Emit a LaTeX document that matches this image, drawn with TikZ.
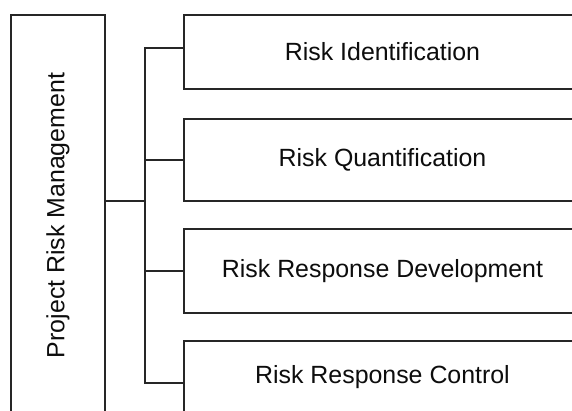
\documentclass[tikz,border=0pt]{standalone}
\usepackage{fontspec}
\setmainfont{Liberation Sans}
\begin{document}
\begin{tikzpicture}[x=1pt,y=-1pt,
  box/.style={draw=black!85, line width=1.4pt, inner sep=0pt, minimum width=397pt},
  lbl/.style={font=\fontsize{24.9}{30}\selectfont, text=black!95},
  conn/.style={draw=black!85, line width=1.4pt}]
\useasboundingbox (0,0) rectangle (572,410);
\clip (0,0) rectangle (572,410);
\fill[white] (0,0) rectangle (572,410);
\node[box, minimum width=94pt, minimum height=401pt] (pm) at (58,215.5) {};
\node[lbl, rotate=90] (pmtext) at (pm.center) {Project Risk Management};
\node[box, minimum height=74pt] (b1) at (382.5,52) {};
\node[lbl] (b1t) at (b1.center) {Risk Identification};
\node[box, minimum height=82pt] (b2) at (382.5,160) {};
\node[lbl] (b2t) at (b2.center) {Risk Quantification};
\node[box, minimum height=84pt] (b3) at (382.5,271) {};
\node[lbl] (b3t) at (b3.center) {Risk Response Development};
\node[box, minimum height=72pt] (b4) at (382.5,377) {};
\node[lbl] (b4t) at (b4.center) {Risk Response Control};
\coordinate (j) at (145,201);
\coordinate (t1) at (145,48);
\coordinate (t4) at (145,383);
\draw[conn] (j -| pm.east) -- (j);
\draw[conn] (t1 -| b1.west) -- (t1) -- (t4) -- (t4 -| b4.west);
\draw[conn] (b2.west) -- (b2.west -| j);
\draw[conn] (b3.west) -- (b3.west -| j);
\end{tikzpicture}
\end{document}
